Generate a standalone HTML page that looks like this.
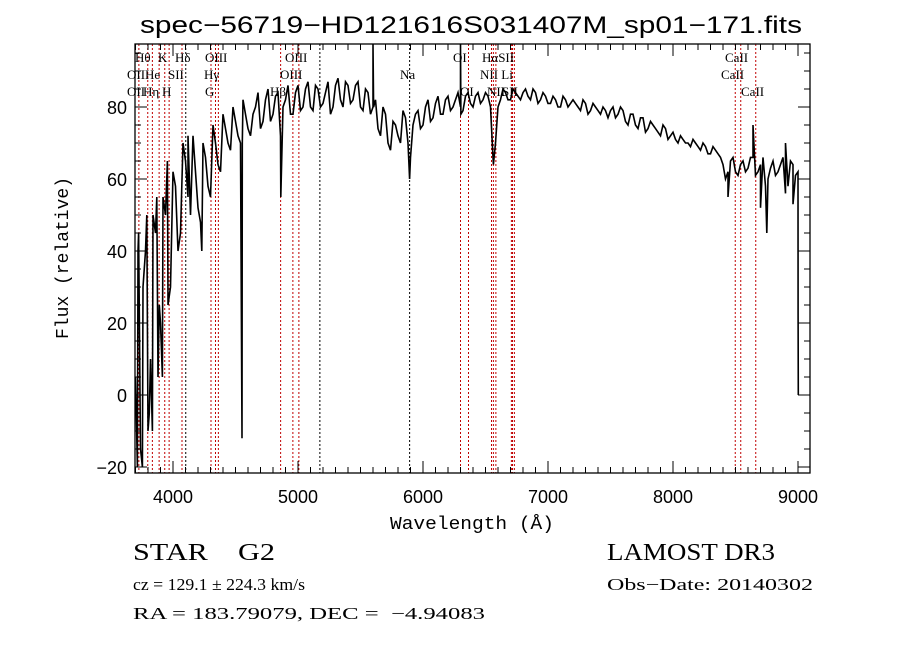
<!DOCTYPE html>
<html><head><meta charset="utf-8"><style>
html,body{margin:0;padding:0;background:#fff;}
svg{display:block;}
text{font-family:"Liberation Serif",serif;fill:#000;white-space:pre;}
</style></head><body>
<svg id="chart" width="900" height="649" viewBox="0 0 900 649" xmlns="http://www.w3.org/2000/svg">
<rect x="0" y="0" width="900" height="649" fill="#fff"/>
<text x="140" y="33" textLength="662" lengthAdjust="spacingAndGlyphs" style="font-family:'Liberation Sans',sans-serif;font-size:24px">spec−56719−HD121616S031407M_sp01−171.fits</text>
<g id="lines"></g>
<g id="spec"></g>
<g id="axes"></g>
<text x="390" y="529" textLength="164" lengthAdjust="spacingAndGlyphs" style="font-family:'Liberation Mono',monospace;font-size:18px">Wavelength (Å)</text>
<text transform="translate(68,258) rotate(-90)" text-anchor="middle" style="font-family:'Liberation Mono',monospace;font-size:18px">Flux (relative)</text>
<text x="133" y="560" textLength="142" lengthAdjust="spacingAndGlyphs" style="font-size:24px">STAR    G2</text>
<text x="133" y="590" textLength="172" lengthAdjust="spacingAndGlyphs" style="font-size:17px">cz = 129.1 ± 224.3 km/s</text>
<text x="133" y="619" textLength="352" lengthAdjust="spacingAndGlyphs" style="font-size:17px">RA = 183.79079, DEC =  −4.94083</text>
<text x="607" y="560" textLength="168" lengthAdjust="spacingAndGlyphs" style="font-size:24px">LAMOST DR3</text>
<text x="607" y="590" textLength="206" lengthAdjust="spacingAndGlyphs" style="font-size:17px">Obs−Date: 20140302</text>
</svg>
<script>
const fluxStart = 3700, fluxStep = 40;
const flux = [5,-15,40,10,45,20,50,30,58,45,65,50,62,48,66,55,70,62,74,68,76,70,78,72,80,74,82,76,83,72,82,78,84,79,85,80,86,80,84,78,86,82,87,81,86,80,85,78,82,72,78,68,75,70,77,66,78,74,80,76,81,78,82,79,82,80,83,81,83,81,84,80,70,82,84,82,84,82,85,82,84,82,83,81,82,80,82,81,81,79,81,79,80,78,79,79,77,80,76,78,75,77,73,76,74,72,74,72,71,72,70,69,70,68,69,67,68,66,60,65,62,64,62,66,61,64,58,63,61,64,56,65,61];
const flux2Start = 3720;
const flux2 = [40,30,-10,50,5,55,25,62,40,70,55,72,52,70,58,75,64,78,70,80,72,82,74,78,84,76,85,78,84,80,86,78,86,80,87,79,85,81,87,80,88,80,86,82,87,79,84,80,74,80,70,76,72,79,70,75,79,75,82,77,83,78,83,80,84,79,84,80,84,82,83,66,80,85,82,85,83,84,83,85,81,84,81,83,80,83,80,82,80,82,78,81,79,80,77,80,78,79,75,78,74,77,74,75,73,75,71,73,70,71,70,71,69,70,67,69,67,64,62,66,61,65,63,66,62,66,60,65,62,66,58,64];
const spikeWave = [3715,3725,3755,3790,3810,3835,3870,3890,3915,3955,4120,4230,4552,4554,4862,5600,5605,5893,6300,6303,6563,8440,8640,8700,8750,8900,8960,9000,9001,9002];
const spikeFlux = [-20,45,-20,50,-5,-10,55,25,5,65,72,40,-12,70,55,98,80,60,98,78,64,55,75,52,45,70,53,62,22,0];
const lineWaves = [3727,3798,3835,3889,3934,3969,4072,4102,4304,4340,4363,4861,4959,5007,5175,5893,6300,6364,6548,6563,6583,6707,6716,6731,8498,8542,8662];
const lineColors = ["r","r","r","r","r","r","r","k","r","r","r","r","r","r","k","k","r","r","r","r","r","r","r","r","r","r","r"];
const labelText = ["Hθ","K","Hδ","OIII","OII","He","SII","Hγ","OII","Hη","H","G","Hβ","OIII","OIII","Na","OI","HαSII","NII Li","OI","NII","SII","CaII","CaII","CaII"];
const labelX = [135,158,175,205,127,145,168,204,127,143,162,205,270,285,280,400,453,482,480,460,487,502,725,721,741];
const labelRow = [0,0,0,0,1,1,1,1,2,2,2,2,2,0,1,1,0,0,1,2,2,2,0,1,2];
const xTicksMajor = [4000,5000,6000,7000,8000,9000];
const yTicksMajor = [-20,0,20,40,60,80];

const NS="http://www.w3.org/2000/svg";
const L=135,R=810,T=44,B=473;
const xs = w => 173 + (w-4000)*0.125;
const ys = v => 395 - v*3.6;
function mk(tag,attrs,parent){const e=document.createElementNS(NS,tag);for(const k in attrs)e.setAttribute(k,attrs[k]);parent.appendChild(e);return e;}

const lg=document.getElementById('lines');
lineWaves.forEach((w,i)=>{
  const e=mk('line',{x1:xs(w),x2:xs(w),y1:T,y2:B,stroke:lineColors[i]==="r"?"#c00000":"#000","stroke-width":1,"stroke-dasharray":"2,2"},lg);
  
  
});
labelText.forEach((t,i)=>{
  const e=mk('text',{x:labelX[i],y:62+labelRow[i]*17,style:"font-size:13px"},lg);
  e.textContent=t;
  
  
});

const pts=[];
flux.forEach((v,i)=>pts.push([fluxStart+i*fluxStep,v]));
flux2.forEach((v,i)=>pts.push([flux2Start+i*fluxStep,v]));
spikeWave.forEach((w,i)=>pts.push([w,spikeFlux[i]]));
pts.sort((a,b)=>a[0]-b[0]);
const clamp=y=>Math.max(T,Math.min(B,y));
const d=pts.map((p,i)=>(i?'L':'M')+xs(p[0]).toFixed(1)+','+clamp(ys(p[1])).toFixed(1)).join('');
const sp=mk('path',{d:d,fill:"none",stroke:"#000","stroke-width":1.6,"stroke-linejoin":"miter"},document.getElementById('spec'));



const ax=document.getElementById('axes');
mk('rect',{x:L,y:T,width:R-L,height:B-T,fill:"none",stroke:"#000","stroke-width":1.3},ax);
for(let w=3700;w<=9100;w+=100){
  const x=xs(w); if(x<L||x>R)continue;
  const maj=w%1000===0, len=maj?12:6;
  mk('line',{x1:x,x2:x,y1:B,y2:B-len,stroke:"#000","stroke-width":1},ax);
  mk('line',{x1:x,x2:x,y1:T,y2:T+len,stroke:"#000","stroke-width":1},ax);
}
xTicksMajor.forEach(w=>{
  const e=mk('text',{x:xs(w),y:503,"text-anchor":"middle",style:"font-family:'Liberation Sans',sans-serif;font-size:18px"},ax);
  e.textContent=w;
  
  
});
for(let v=-20;v<=95;v+=5){
  const y=ys(v); if(y<T||y>B)continue;
  const maj=v%20===0, len=maj?12:6;
  mk('line',{x1:L,x2:L+len,y1:y,y2:y,stroke:"#000","stroke-width":1},ax);
  mk('line',{x1:R,x2:R-len,y1:y,y2:y,stroke:"#000","stroke-width":1},ax);
}
yTicksMajor.forEach(v=>{
  const e=mk('text',{x:127,y:ys(v)+7,"text-anchor":"end",style:"font-family:'Liberation Sans',sans-serif;font-size:18px"},ax);
  e.textContent=v<0?'−'+(-v):v;
  
  
});
</script>
</body></html>
